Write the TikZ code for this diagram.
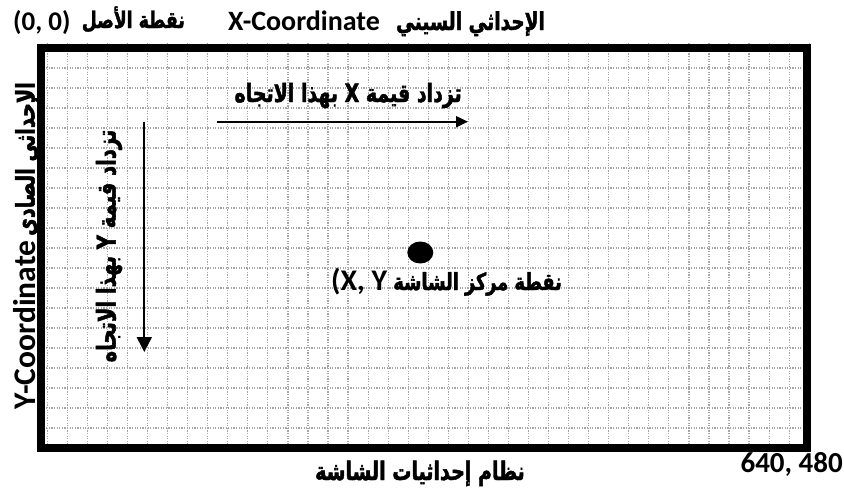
\documentclass[tikz,border=0pt]{standalone}
\usepackage{fontspec}
\usetikzlibrary{arrows.meta,shapes.geometric}
\TeXXeTstate=1
\newfontfamily\arabicfont[Script=Arabic,FakeStretch=0.75,BoldFeatures={FakeBold=1.8}]{DejaVu Sans}
\newfontfamily\latinfont{Carlito}
\newcommand\arsize[1]{\fontsize{#1}{#1}\selectfont}
\begin{document}
\begin{tikzpicture}[x=1pt,y=-1pt,
  gridline/.style={draw=black!35, line width=1.2pt, dash pattern=on 1.2pt off 1.4pt},
  ar/.style={font=\arabicfont\bfseries\arsize{25}, inner sep=0pt},
  la/.style={font=\latinfont\bfseries\arsize{27}, inner sep=0pt},
  arr/.style={line width=2pt}]
\useasboundingbox (0,0) rectangle (844,496);
\fill[white] (0,0) rectangle (844,496);
% grid
\foreach \k in {0,...,38} \draw[gridline] ({47.3+20.05*\k},43) -- ({47.3+20.05*\k},448);
\foreach \k in {0,...,20} \draw[gridline] (41,{48+20*\k}) -- (807,{48+20*\k});
% screen frame
\node[draw, line width=8pt, minimum width=766pt, minimum height=400pt, inner sep=0pt] (screen) at (424,248) {};
% top labels
\node[la, anchor=base west] (origin) at (13,30) {(0, 0)};
\node[ar, font=\arabicfont\bfseries\arsize{23}, anchor=base east] (originar) at (185,28) {\beginR نقطة الأصل\endR};
\node[la, font=\latinfont\bfseries\arsize{28}, anchor=base west] (xcoord) at (228,30) {X-Coordinate};
\node[ar, font=\arabicfont\bfseries\arsize{24.7}, anchor=base east] (xcoordar) at (545,30) {\beginR الإحداثي السيني\endR};
% left labels
\node[la, font=\latinfont\bfseries\arsize{31.5}, rotate=90] (ycoord) at (25,325) {Y-Coordinate};
\node[ar, font=\arabicfont\bfseries\arsize{25.7}, rotate=90] (ycoordar) at (28,159) {\beginR الإحداثي الصادي\endR};
% x arrow
\coordinate (xs) at (217,121.7);
\coordinate (xe) at (468,121.7);
\draw[arr, -{Triangle[length=12pt,width=11pt]}] (xs) -- (xe);
\node[ar, font=\arabicfont\bfseries\arsize{25.3}, anchor=base east] (xlabel) at (462,102) {\beginR تزداد قيمة X بهذا الاتجاه\endR};
% y arrow
\coordinate (ys) at (144.3,121.7);
\coordinate (ye) at (144.3,352);
\draw[arr, -{Triangle[length=15pt,width=15pt]}] (ys) -- (ye);
\node[ar, font=\arabicfont\bfseries\arsize{26}, rotate=90] (ylabel) at (109,246) {\beginR تزداد قيمة Y بهذا الاتجاه\endR};
% centre point
\node[fill=black, ellipse, minimum width=26pt, minimum height=22pt, inner sep=0pt] (centre) at (420.3,252.5) {};
\node[ar, font=\arabicfont\bfseries\arsize{23.6}, anchor=base east] (centrelabel) at (562,290) {\beginR نقطة مركز الشاشة \beginL{\latinfont\bfseries\arsize{30}(X, Y}\endL\endR};
% bottom labels
\node[ar, font=\arabicfont\bfseries\arsize{25.4}, anchor=base east] (system) at (525,480) {\beginR نظام إحداثيات الشاشة\endR};
\node[la, font=\latinfont\bfseries\arsize{29}, anchor=base east] (corner) at (843,472) {640, 480};
\end{tikzpicture}
\end{document}
